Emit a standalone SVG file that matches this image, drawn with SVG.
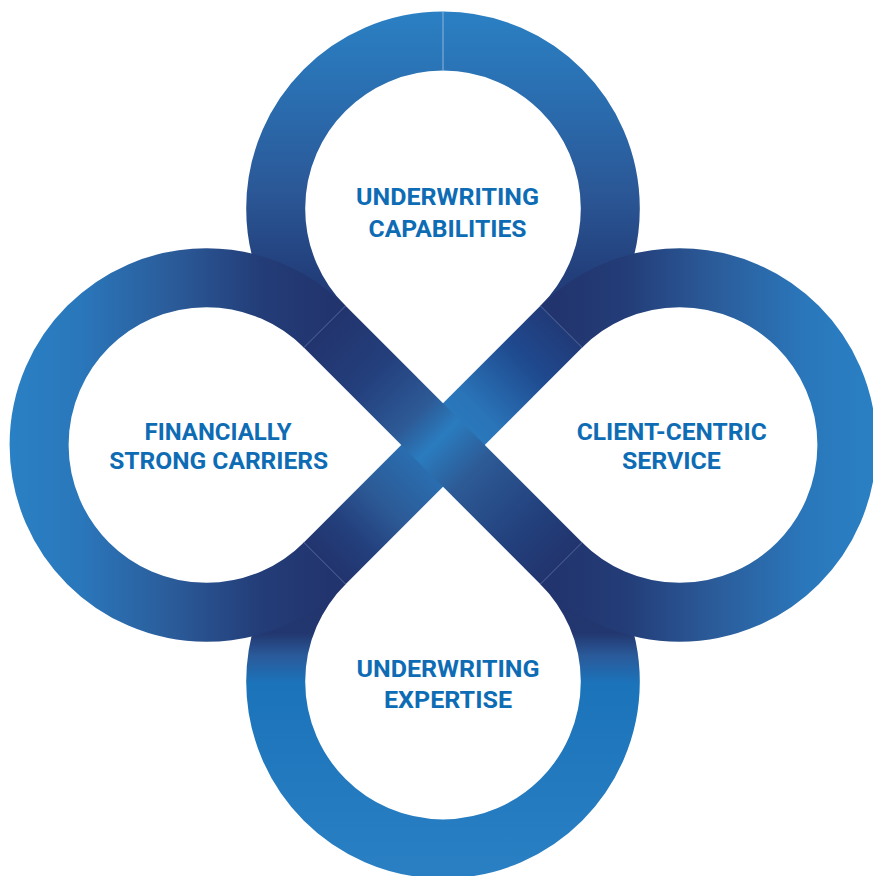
<svg xmlns="http://www.w3.org/2000/svg" width="873" height="876" viewBox="0 0 873 876">
  <defs>
    <linearGradient id="gTop" gradientUnits="userSpaceOnUse" x1="0" y1="12" x2="0" y2="340">
      <stop offset="0" stop-color="#2a80c3"/>
      <stop offset="0.3" stop-color="#2a6bad"/>
      <stop offset="0.55" stop-color="#2b5796"/>
      <stop offset="0.8" stop-color="#223f7b"/>
      <stop offset="1" stop-color="#22346e"/>
    </linearGradient>
    <linearGradient id="gBottom" gradientUnits="userSpaceOnUse" x1="0" y1="600" x2="0" y2="878">
      <stop offset="0" stop-color="#22346e"/>
      <stop offset="0.12" stop-color="#22376f"/>
      <stop offset="0.2" stop-color="#2a5a9a"/>
      <stop offset="0.3" stop-color="#1b73ba"/>
      <stop offset="1" stop-color="#2a80c3"/>
    </linearGradient>
    <linearGradient id="gLeft" gradientUnits="userSpaceOnUse" x1="10" y1="0" x2="330" y2="0">
      <stop offset="0" stop-color="#2a80c4"/>
      <stop offset="0.22" stop-color="#2a77bb"/>
      <stop offset="0.5" stop-color="#2b5c9a"/>
      <stop offset="0.78" stop-color="#233d78"/>
      <stop offset="1" stop-color="#22346e"/>
    </linearGradient>
    <linearGradient id="gRight" gradientUnits="userSpaceOnUse" x1="876" y1="0" x2="556" y2="0">
      <stop offset="0" stop-color="#2a80c4"/>
      <stop offset="0.22" stop-color="#2a77bb"/>
      <stop offset="0.5" stop-color="#2b5c9a"/>
      <stop offset="0.78" stop-color="#233d78"/>
      <stop offset="1" stop-color="#22346e"/>
    </linearGradient>
    <linearGradient id="gBack" gradientUnits="userSpaceOnUse" x1="324.7" y1="326.7" x2="561.3" y2="563.3">
      <stop offset="0" stop-color="#22346e"/>
      <stop offset="0.2" stop-color="#233f7c"/>
      <stop offset="0.38" stop-color="#2d5a96"/>
      <stop offset="0.48" stop-color="#2a7cbf"/>
      <stop offset="0.62" stop-color="#2d5a95"/>
      <stop offset="0.85" stop-color="#22407c"/>
      <stop offset="1" stop-color="#22346e"/>
    </linearGradient>
    <linearGradient id="gFwd" gradientUnits="userSpaceOnUse" x1="561.3" y1="326.7" x2="324.7" y2="563.3">
      <stop offset="0" stop-color="#213a78"/>
      <stop offset="0.15" stop-color="#1f4a8f"/>
      <stop offset="0.35" stop-color="#2a74b8"/>
      <stop offset="0.5" stop-color="#2a7cbf"/>
      <stop offset="0.6" stop-color="#2a6cae"/>
      <stop offset="0.75" stop-color="#2c5a96"/>
      <stop offset="0.88" stop-color="#233f7c"/>
      <stop offset="1" stop-color="#22346e"/>
    </linearGradient>
  </defs>
  <style>
    .band { fill: none; stroke-width: 59; stroke-linecap: butt; }
    .seam { stroke-width: 1; fill: none; }
    .label { font-family: Roboto, "Liberation Sans", Arial, sans-serif; font-weight: bold; font-size: 24px; fill: #0e6cb5; text-anchor: middle; }
  </style>

  <g id="connectors">
    <path id="arc-top" class="band" stroke="url(#gTop)" d="M 561.3 326.7 A 167.3 167.3 0 1 0 324.7 326.7"/>
    <path id="arc-bottom" class="band" stroke="url(#gBottom)" d="M 324.7 563.3 A 167.3 167.3 0 1 0 561.3 563.3"/>
    <path id="arc-left" class="band" stroke="url(#gLeft)" d="M 324.7 326.7 A 167.3 167.3 0 1 0 324.7 563.3"/>
    <path id="arc-right" class="band" stroke="url(#gRight)" d="M 561.3 326.7 A 167.3 167.3 0 1 1 561.3 563.3"/>
    <path id="diag-fwd" class="band" stroke="url(#gFwd)" d="M 561.3 326.7 L 324.7 563.3"/>
    <path id="diag-back" class="band" stroke="url(#gBack)" d="M 324.7 326.7 L 561.3 563.3"/>
    <line class="seam" stroke="#8cb4de" x1="443" y1="12" x2="443" y2="70.5"/>
    <g stroke="#6f8fc0" stroke-opacity="0.45" class="seam">
      <line x1="540.4" y1="305.8" x2="582.2" y2="347.6"/>
      <line x1="303.8" y1="347.6" x2="345.6" y2="305.8"/>
      <line x1="303.8" y1="542.4" x2="345.6" y2="584.2"/>
      <line x1="540.4" y1="584.2" x2="582.2" y2="542.4"/>
    </g>
  </g>

  <g id="node-top">
    <text class="label" x="447.5" y="205" textLength="183" lengthAdjust="spacingAndGlyphs">UNDERWRITING</text>
    <text class="label" x="447.5" y="236.7" textLength="158" lengthAdjust="spacingAndGlyphs">CAPABILITIES</text>
  </g>
  <g id="node-right">
    <text class="label" x="671.7" y="439.5" textLength="190" lengthAdjust="spacingAndGlyphs">CLIENT-CENTRIC</text>
    <text class="label" x="671.4" y="469.3" textLength="99" lengthAdjust="spacingAndGlyphs">SERVICE</text>
  </g>
  <g id="node-bottom">
    <text class="label" x="448" y="677.3" textLength="183" lengthAdjust="spacingAndGlyphs">UNDERWRITING</text>
    <text class="label" x="448" y="708.3" textLength="128" lengthAdjust="spacingAndGlyphs">EXPERTISE</text>
  </g>
  <g id="node-left">
    <text class="label" x="218" y="440" textLength="147" lengthAdjust="spacingAndGlyphs">FINANCIALLY</text>
    <text class="label" x="218.7" y="468.5" textLength="219" lengthAdjust="spacingAndGlyphs">STRONG CARRIERS</text>
  </g>
</svg>
